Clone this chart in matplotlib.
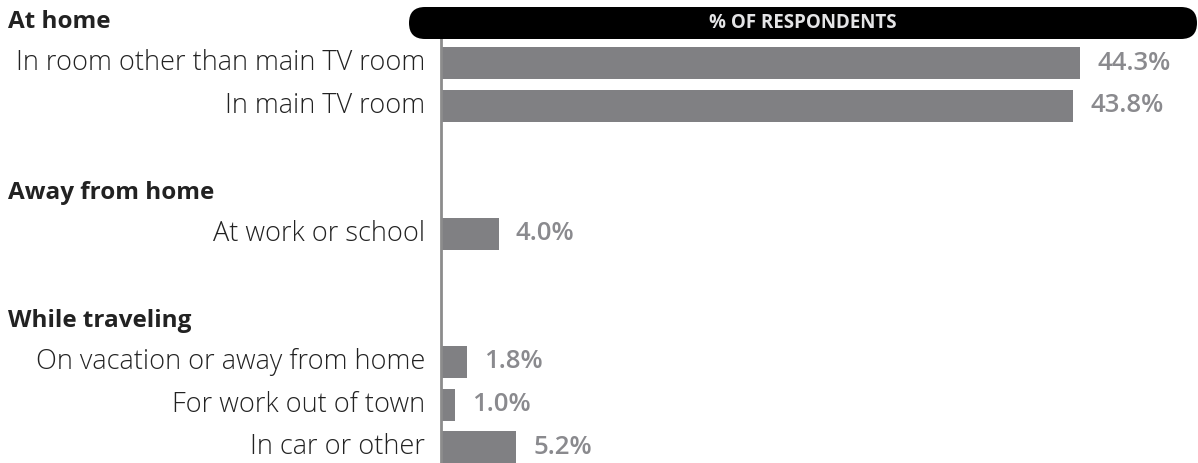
"""Where respondents watch: horizontal bar chart with grouped row labels."""
import matplotlib
matplotlib.use("Agg")
import matplotlib.pyplot as plt
from matplotlib.patches import FancyBboxPatch
from matplotlib.transforms import offset_copy

# ---- data -------------------------------------------------------------
groups = ["At home", "Away from home", "While traveling"]
group_rows = [-1, 3, 6]                       # slot index of each group header
labels = ["In room other than main TV room", "In main TV room",
          "At work or school",
          "On vacation or away from home", "For work out of town", "In car or other"]
rows = [0, 1, 4, 7, 8, 9]
values = [44.3, 43.8, 4.0, 1.8, 1.0, 5.2]
header_text = "% OF RESPONDENTS"

BAR = "#808083"
VAL = "#8a8a8e"
TXT = "#222222"
plt.rcParams["font.family"] = ["Open Sans", "DejaVu Sans"]

W, H = 1198, 463
fig = plt.figure(figsize=(W / 100, H / 100), dpi=100)
x0 = 441
ax = fig.add_axes([x0 / W, 0, 1 - x0 / W, 1])
px_per_unit = 14.43
slot = 42.7
ax.set_xlim(0, (W - x0) / px_per_unit)
ax.set_ylim((H - 63) / slot, -63 / slot)
ax.axis("off")

ax.barh(rows, values, height=32 / slot, color=BAR)
for r, v in zip(rows, values):
    ax.text(v, r, "%.1f%%" % v, transform=offset_copy(ax.transData, fig, x=17, units="dots"),
            ha="left", va="center", fontsize=18.5, fontweight="semibold", color=VAL)

lab_tr = offset_copy(ax.transData, fig, x=-16, units="dots")
for r, lab in zip(rows, labels):
    ax.text(0, r, lab, transform=lab_tr, ha="right", va="center", fontsize=19.5,
            fontweight="light", color=TXT)

grp_tr = offset_copy(ax.transData, fig, x=-(x0 - 8), units="dots")
for r, g in zip(group_rows, groups):
    ax.text(0, r + 0.05, g, transform=grp_tr, ha="left", va="center", fontsize=17.5,
            fontweight="bold", color=TXT)

# vertical axis line
ax.plot([0, 0], [-0.66, (H - 63) / slot], color="#8c8c8c", lw=2, clip_on=False,
        solid_capstyle="butt")

# black pill header (inches, from figure bottom-left)
pill = FancyBboxPatch((4.09, (H - 39) / 100), 7.88, 0.32,
                      boxstyle="round,pad=0,rounding_size=0.16",
                      transform=fig.dpi_scale_trans, facecolor="black",
                      edgecolor="none", zorder=5)
fig.add_artist(pill)
fig.text((4.09 + 7.88 / 2) / (W / 100), 1 - 23 / H, header_text, ha="center",
         va="center", color="#e4e4e6", fontsize=13.5, fontweight="bold", zorder=6)

fig.savefig("out.png", dpi=100)
